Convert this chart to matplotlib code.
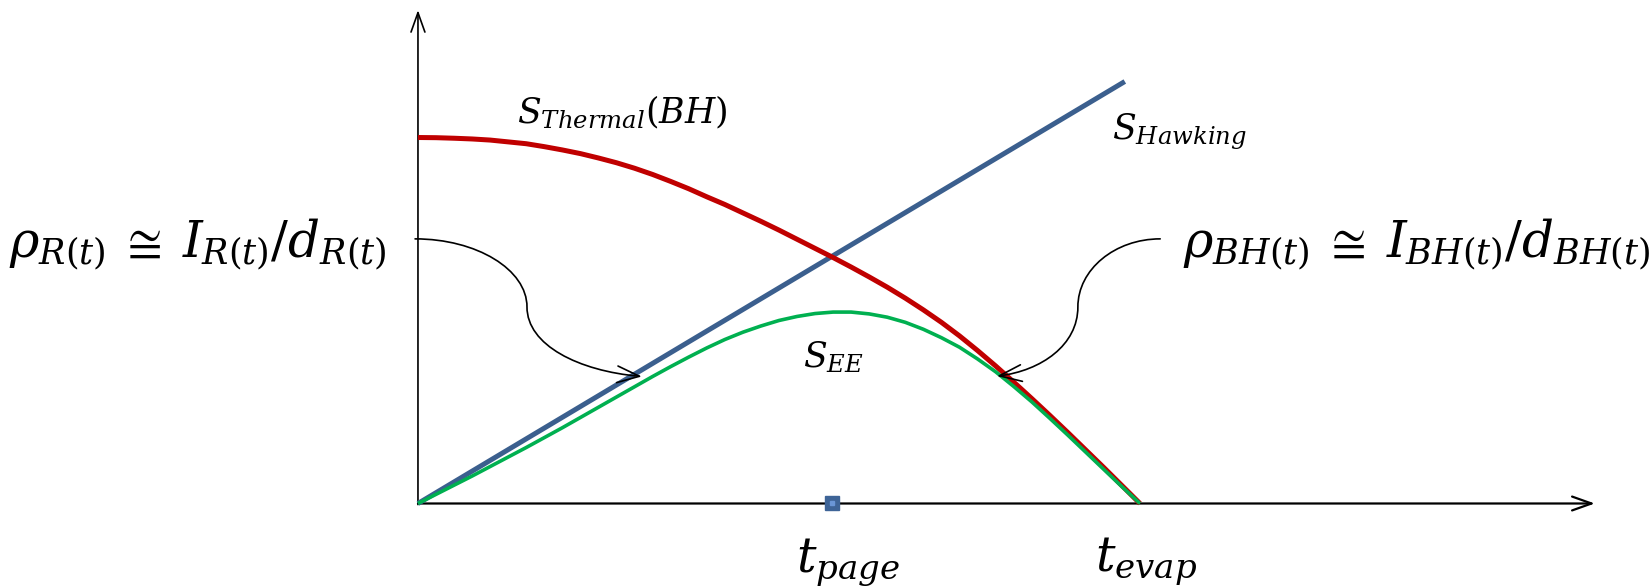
import matplotlib
matplotlib.use('Agg')
import matplotlib.pyplot as plt
from matplotlib.path import Path
from matplotlib.patches import FancyArrowPatch

plt.rcParams['mathtext.fontset'] = 'dejavuserif'

# ===== data (t in units of t_evap, S in units of S_Thermal(0)) =====
t_curve = [0, 0.025, 0.05, 0.075, 0.1, 0.125, 0.15, 0.175, 0.2, 0.225, 0.25,
           0.275, 0.3, 0.325, 0.35, 0.375, 0.4, 0.425, 0.45, 0.475, 0.5,
           0.525, 0.55, 0.575, 0.6, 0.625, 0.65, 0.675, 0.7, 0.725, 0.75,
           0.775, 0.8, 0.825, 0.85, 0.875, 0.9, 0.925, 0.95, 0.975, 1.0]
s_thermal = [1.000, 0.9995, 0.998, 0.996, 0.993, 0.988, 0.983, 0.975, 0.966, 0.956, 0.944,
             0.931, 0.916, 0.899, 0.880, 0.860, 0.838, 0.817, 0.794, 0.771, 0.747,
             0.722, 0.697, 0.672, 0.646, 0.619, 0.591, 0.561, 0.529, 0.495, 0.458,
             0.418, 0.376, 0.332, 0.287, 0.241, 0.194, 0.146, 0.098, 0.049, 0.0]
s_ee = [0.0, 0.025, 0.050, 0.075, 0.101, 0.127, 0.153, 0.180, 0.207, 0.235, 0.263,
        0.291, 0.319, 0.347, 0.374, 0.400, 0.425, 0.448, 0.468, 0.485, 0.500,
        0.511, 0.519, 0.523, 0.523, 0.518, 0.509, 0.495, 0.476, 0.453, 0.427,
        0.395, 0.360, 0.320, 0.278, 0.233, 0.187, 0.140, 0.093, 0.046, 0.0]
t_hawking = [0, 0.979]
s_hawking = [0, 1.153]
t_page = 0.573
t_evap = 1.0

x_axis_end = 1.630
y_axis_end = 1.348

RED = '#C00000'
BLUE = '#3B5F8E'
GREEN = '#00B050'

fig = plt.figure(figsize=(16.51, 5.88), dpi=100)
ax = fig.add_axes([0, 0, 1, 1])
ax.set_xlim(-0.5789, 1.7078)
ax.set_ylim(-0.2309, 1.3757)
ax.axis('off')

# axes with arrow heads
ax.annotate('', xy=(x_axis_end, 0), xytext=(0, 0),
            arrowprops=dict(arrowstyle='->,head_length=0.7,head_width=0.25',
                            lw=1.6, color='black', shrinkA=0, shrinkB=0,
                            mutation_scale=20))
ax.annotate('', xy=(0, y_axis_end), xytext=(0, -0.003),
            arrowprops=dict(arrowstyle='->,head_length=0.7,head_width=0.25',
                            lw=1.2, color='black', shrinkA=0, shrinkB=0,
                            mutation_scale=20))

# curves
ax.plot(t_hawking, s_hawking, color=BLUE, lw=3.6, solid_capstyle='butt', zorder=3)
ax.plot(t_curve, s_thermal, color=RED, lw=3.6, solid_capstyle='butt',
        solid_joinstyle='round', zorder=4)
ax.plot(t_curve, s_ee, color=GREEN, lw=2.6, solid_capstyle='butt',
        solid_joinstyle='round', zorder=5)

# t_page marker
ax.plot([t_page], [0], marker='s', ms=10, color='#3E6497', zorder=6)
ax.plot([t_page], [0], marker='s', ms=3, color='#6A96D6', zorder=7)

# curly arrows
def s_arrow(p0, p1, p2, k=0.55):
    (x0, y0), (x1, y1), (x2, y2) = p0, p1, p2
    verts = [(x0, y0),
             (x0 + k * (x1 - x0), y0), (x1, y1 + k * (y0 - y1)), (x1, y1),
             (x1, y1 - k * (y1 - y2)), (x2 - k * (x2 - x1), y2 + 0.08 * (y1 - y2)), (x2, y2)]
    codes = [Path.MOVETO] + [Path.CURVE4] * 6
    arr = FancyArrowPatch(path=Path(verts, codes),
                          arrowstyle='->,head_length=0.8,head_width=0.3',
                          mutation_scale=20, lw=1.2, color='black', zorder=8)
    ax.add_patch(arr)

s_arrow((-0.004, 0.723), (0.151, 0.537), (0.310, 0.347))
s_arrow((1.028, 0.723), (0.914, 0.537), (0.802, 0.348))

# labels
ax.text(0.283, 1.040, r'$S_{Thermal}(BH)$', fontsize=25, ha='center', va='baseline')
ax.text(1.055, 0.996, r'$S_{Hawking}$', fontsize=25, ha='center', va='baseline')
ax.text(0.575, 0.373, r'$S_{EE}$', fontsize=25, ha='center', va='baseline')
ax.text(0.595, -0.187, r'$t_{page}$', fontsize=35, ha='center', va='baseline')
ax.text(1.008, -0.187, r'$t_{evap}$', fontsize=35, ha='center', va='baseline')
ax.text(-0.3054, 0.671, r'$\rho_{R(t)}\:\cong\:I_{R(t)}/d_{R(t)}$', fontsize=36,
        ha='center', va='baseline')
ax.text(1.060, 0.671, r'$\rho_{BH(t)}\:\cong\:I_{BH(t)}/d_{BH(t)}$', fontsize=36,
        ha='left', va='baseline')

fig.savefig('out.png', dpi=100)
